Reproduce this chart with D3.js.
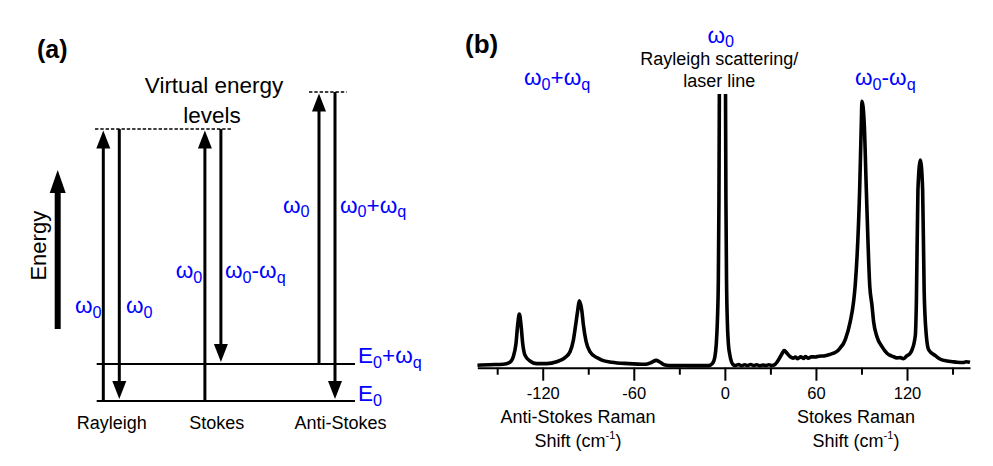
<!DOCTYPE html>
<html>
<head>
<meta charset="utf-8">
<script src="https://cdn.jsdelivr.net/npm/d3@7"></script>
<style>
  html, body { margin: 0; padding: 0; background: #fff; }
  svg text { font-family: "Liberation Sans", Arial, Helvetica, sans-serif; }
</style>
</head>
<body>
<svg id="fig" width="993" height="466"></svg>
<script>
// ---------- Panel (a): energy level diagram ----------
// energy levels (arbitrary units, ground state = 0, one vibrational quantum = 1)
const levelNames = ["E0", "E0+wq"];
const levelEnergy = [0, 1];
const laserEnergy = 7.35;              // photon energy ω0 in the same units
// transitions per process: [start energy, end energy]
const processes = ["Rayleigh", "Stokes", "Anti-Stokes"];
const upStart = [0, 0, 1];
const upEnd = [7.35, 7.35, 8.35];
const downStart = [7.35, 7.35, 8.35];
const downEnd = [0, 1, 0];

// ---------- Panel (b): Raman spectrum ----------
const shift = [
  -163, -155, -146, -141.6, -139.4, -137.6, -136.5, -135.4, -134.3, -133.2,
  -131.7, -128.4, -124, -117.4, -110.8, -105.3, -102, -99.8, -98, -96.9,
  -95.9, -94.3, -93.2, -91.4, -88.8, -84.4, -81.1, -74.5, -63.6, -52.5,
  -48.1, -45.3, -42.6, -39.4, -35, -27, -19.6, -10.8, -8.2, -6.6,
  -5.7, -4.9, -4.3, -3.9, -3.6, -1.6, 0.4, 0.7, 1.1, 1.6,
  2.3, 3.2, 4.4, 5.6, 7, 9, 11, 13, 15, 17,
  19, 21, 23, 25, 27, 29, 31, 33, 34.3, 36.5,
  38, 39.1, 40.9, 43.1, 45, 46.4, 48, 50, 52, 53,
  55, 57, 59.5, 62, 66.1, 69, 71.6, 74.9, 76.5, 78.2,
  79.6, 82.6, 84.8, 85.9, 88.8, 89.9, 90.3, 91.8, 93.2, 95.5,
  96.9, 98, 100.2, 103.5, 106.8, 109, 111.2, 113, 115.6, 117.5,
  120, 122, 123.3, 125.5, 126.2, 127.2, 128.8, 130.3, 131.3, 132.7,
  134.3, 138.7, 142, 146.4, 150, 153, 157, 159, 161.5
];
const intensity = [
  1.0, 1.2, 1.35, 2.1, 4.1, 9.0, 15.7, 19.7, 15.7, 9.0,
  4.7, 2.55, 1.6, 1.6, 2.3, 3.8, 5.9, 10.2, 16.9, 21.2,
  24.5, 21.2, 15.7, 9.6, 5.9, 3.8, 2.9, 2.1, 1.6, 1.35,
  2.1, 2.8, 2.1, 1.1, 0.85, 0.9, 0.85, 0.85, 1.6, 4.0,
  8.4, 17.5, 32, 61, 105, 400, 105, 61, 32, 17.5,
  9, 5, 2.2, 1.2, 0.9, 1.3, 0.8, 1.2, 0.9, 1.3,
  0.9, 1.2, 0.8, 1.1, 0.9, 1.2, 0.9, 1.3, 2.1, 4.1,
  5.6, 6.4, 5.4, 4.1, 3.6, 4.0, 3.4, 4.1, 3.5, 4.2,
  3.6, 4.1, 4.0, 4.3, 4.5, 4.9, 5.4, 6.6, 7.7, 9.0,
  10.8, 16.9, 24.2, 30.3, 65, 89.4, 97.3, 89.4, 65, 29.6,
  23, 16.9, 11.4, 7.8, 5.4, 4.6, 4.1, 3.7, 3.8, 3.4,
  4.5, 5.3, 6.6, 12, 24.8, 65, 75.9, 65, 28, 12,
  6.6, 4.5, 3.2, 2.55, 2.3, 2.1, 2.0, 2.3, 2.1
];
const majorTicks = [-120, -60, 0, 60, 120];
const minorTicks = [-150, -90, -30, 30, 90, 150];

const BLUE = "#0000ff";
const svg = d3.select("#fig");
svg.append("rect").attr("width", 993).attr("height", 466).attr("fill", "#fff");

// text with subscripts: parts = [[text, isSub], ...]
function rich(g, x, y, parts, size, anchor) {
  const t = g.append("text").attr("x", x).attr("y", y)
    .attr("font-size", size).attr("fill", BLUE)
    .attr("text-anchor", anchor || "start");
  let shifted = false;
  parts.forEach(([s, sub]) => {
    const ts = t.append("tspan").text(s);
    if (sub && !shifted) { ts.attr("dy", 4.5).attr("font-size", size * 0.72); shifted = true; }
    else if (sub) { ts.attr("font-size", size * 0.72); }
    else if (shifted) { ts.attr("dy", -4.5); shifted = false; }
  });
  return t;
}

// ===== Panel (a) =====
const ga = svg.append("g");
const yE = d3.scaleLinear().domain([0, 1]).range([401, 364]);
const colX = [111.3, 212.9, 327];     // column centres
const pairGap = 8;                    // half distance between up/down arrows
const levelX0 = 96.7, levelX1 = 355;

ga.append("text").attr("x", 37).attr("y", 58).attr("font-size", 25)
  .attr("font-weight", "bold").text("(a)");

// horizontal energy levels
ga.selectAll("line.level").data(levelEnergy).join("line")
  .attr("class", "level")
  .attr("x1", levelX0).attr("x2", levelX1)
  .attr("y1", d => yE(d)).attr("y2", d => yE(d))
  .attr("stroke", "#000").attr("stroke-width", 2);

// virtual levels (dashed)
const virtualLevels = [
  { e: laserEnergy, x0: 95, x1: 231.7 },
  { e: laserEnergy + 1, x0: 309, x1: 346.7 }
];
ga.selectAll("line.virt").data(virtualLevels).join("line")
  .attr("class", "virt")
  .attr("x1", d => d.x0).attr("x2", d => d.x1)
  .attr("y1", d => yE(d.e)).attr("y2", d => yE(d.e))
  .attr("stroke", "#000").attr("stroke-width", 1.4)
  .attr("stroke-dasharray", "3.4,1.9");

const headW = 14, headH = 18;
function arrow(g, x, yFrom, yTo, w, hw, hh) {
  const dir = yTo < yFrom ? -1 : 1;
  const tip = yTo;
  const base = tip - dir * hh;
  g.append("line").attr("x1", x).attr("x2", x).attr("y1", yFrom).attr("y2", base + dir * 1)
    .attr("stroke", "#000").attr("stroke-width", w);
  g.append("path")
    .attr("d", `M${x},${tip}L${x - hw / 2},${base}L${x + hw / 2},${base}Z`)
    .attr("fill", "#000");
}

processes.forEach((p, i) => {
  const xu = colX[i] - pairGap, xd = colX[i] + pairGap;
  arrow(ga, xu, yE(upStart[i]), yE(upEnd[i]) + 1.5, 3, headW, headH);
  arrow(ga, xd, yE(downStart[i]), yE(downEnd[i]) - 2, 3, headW, headH);
});

// process names
const procLabelX = [111.7, 216.7, 340.5];
processes.forEach((p, i) => {
  ga.append("text").attr("x", procLabelX[i]).attr("y", 429)
    .attr("font-size", 18).attr("text-anchor", "middle").text(p);
});

// Energy axis arrow
arrow(ga, 57.7, 329, 170, 6, 16, 23);
ga.append("text").attr("transform", "translate(46,245.7) rotate(-90)")
  .attr("font-size", 22).attr("text-anchor", "middle").text("Energy");

ga.append("text").attr("x", 214).attr("y", 93.3).attr("font-size", 22.5)
  .attr("text-anchor", "middle").text("Virtual energy");
ga.append("text").attr("x", 212).attr("y", 123.3).attr("font-size", 22.5)
  .attr("text-anchor", "middle").text("levels");

// blue photon labels
const FS = 22.5;
rich(ga, 75, 313, [["ω"], ["0", 1]], FS);
rich(ga, 126, 313, [["ω"], ["0", 1]], FS);
rich(ga, 175.7, 278, [["ω"], ["0", 1]], FS);
rich(ga, 225, 278, [["ω"], ["0", 1], ["-ω"], ["q", 1]], FS);
rich(ga, 283, 212.5, [["ω"], ["0", 1]], FS);
rich(ga, 340, 212.5, [["ω"], ["0", 1], ["+ω"], ["q", 1]], FS);
rich(ga, 358, 363.3, [["E"], ["0", 1], ["+ω"], ["q", 1]], FS);
rich(ga, 358, 401, [["E"], ["0", 1]], FS);

// ===== Panel (b) =====
const gb = svg.append("g");
const x = d3.scaleLinear().domain([-163.1, 161.5]).range([477.3, 970]);
const y = d3.scaleLinear().domain([0, 100]).range([368, 94]);

gb.append("text").attr("x", 465).attr("y", 53).attr("font-size", 26)
  .attr("font-weight", "bold").text("(b)");

svg.append("defs").append("clipPath").attr("id", "plotClip")
  .append("rect").attr("x", 470).attr("y", 94).attr("width", 510).attr("height", 300);

const pts = shift.map((s, i) => [s, intensity[i]]);
const line = d3.line().x(d => x(d[0])).y(d => y(d[1])).curve(d3.curveMonotoneX);
gb.append("path").datum(pts).attr("d", line)
  .attr("clip-path", "url(#plotClip)")
  .attr("fill", "none").attr("stroke", "#000").attr("stroke-width", 3.6)
  .attr("stroke-linejoin", "round").attr("stroke-linecap", "butt");

// x axis
const axisY = 367.7;
const axis = d3.axisBottom(x).tickValues(majorTicks).tickSize(13).tickSizeOuter(0)
  .tickFormat(d => String(d));
const ag = gb.append("g").attr("transform", `translate(0,${axisY})`).call(axis);
ag.select(".domain").attr("stroke", "#000").attr("stroke-width", 2);
ag.selectAll(".tick line").attr("stroke", "#000").attr("stroke-width", 2);
ag.selectAll(".tick text").attr("font-size", 16.5).attr("fill", "#000")
  .attr("font-family", "Liberation Sans, Arial, sans-serif")
  .attr("y", 0).attr("dy", 31.3);
const minorAxis = d3.axisBottom(x).tickValues(minorTicks).tickSize(7).tickSizeOuter(0)
  .tickFormat("");
const mg = gb.append("g").attr("transform", `translate(0,${axisY})`).call(minorAxis);
mg.select(".domain").remove();
mg.selectAll(".tick line").attr("stroke", "#000").attr("stroke-width", 2);

// axis titles
function shiftLabel(cx, firstLine) {
  gb.append("text").attr("x", cx).attr("y", 423.3).attr("font-size", 18)
    .attr("text-anchor", "middle").text(firstLine);
  const t = gb.append("text").attr("x", cx).attr("y", 446.7).attr("font-size", 18)
    .attr("text-anchor", "middle");
  t.append("tspan").text("Shift (cm");
  t.append("tspan").attr("font-size", 11).attr("dy", -8).text("-1");
  t.append("tspan").attr("dy", 8).text(")");
}
shiftLabel(578, "Anti-Stokes Raman");
shiftLabel(856, "Stokes Raman");

// peak annotations
rich(gb, 720.8, 42.5, [["ω"], ["0", 1]], FS, "middle");
gb.append("text").attr("x", 719.3).attr("y", 65).attr("font-size", 18)
  .attr("text-anchor", "middle").text("Rayleigh scattering/");
gb.append("text").attr("x", 719.3).attr("y", 87.3).attr("font-size", 18)
  .attr("text-anchor", "middle").text("laser line");
rich(gb, 524, 85, [["ω"], ["0", 1], ["+ω"], ["q", 1]], FS);
rich(gb, 855, 85, [["ω"], ["0", 1], ["-ω"], ["q", 1]], FS);
</script>
</body>
</html>
